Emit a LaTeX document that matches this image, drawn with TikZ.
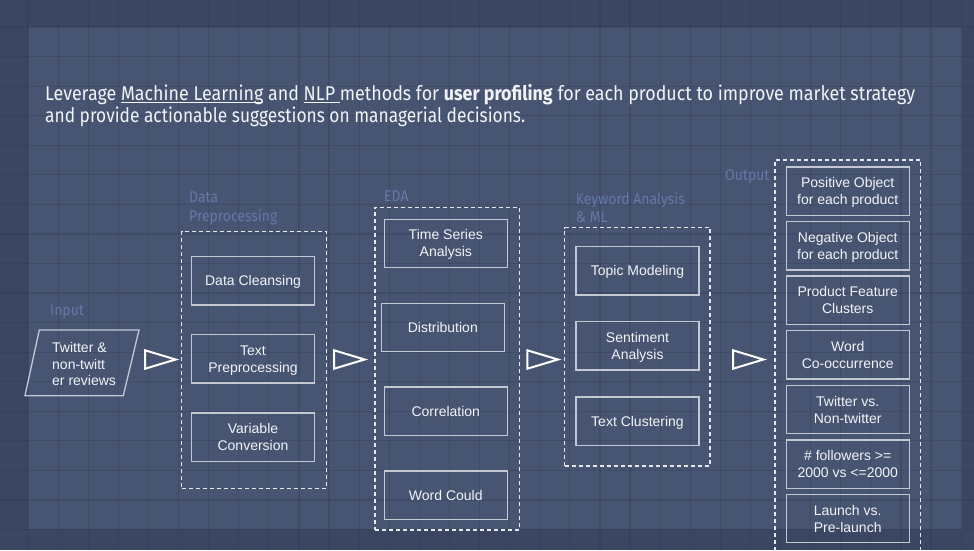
\documentclass[tikz,border=0pt]{standalone}
\usepackage{fontspec}
\usepackage{graphicx}
\setmainfont{Liberation Sans}
\newfontfamily\hdfont{Fira Sans}
\newfontfamily\lbfont[FakeStretch=0.9]{Fira Sans}
\definecolor{outerbg}{HTML}{3B4663}
\definecolor{innerbg}{HTML}{475572}
\definecolor{gridc}{HTML}{2E3852}
\definecolor{boxline}{HTML}{C3C8D2}
\definecolor{dashc}{HTML}{E6E8EE}
\definecolor{labelc}{HTML}{6479A8}
\definecolor{headc}{HTML}{F2F3F6}
\newsavebox\ulbox
\newcommand\myul[1]{\sbox\ulbox{#1}\rlap{\raisebox{-2.4pt}{\rule{\wd\ulbox}{1.3pt}}}\usebox\ulbox}
\tikzset{
  gridline/.style={draw=gridc, line width=1.2pt, opacity=0.3},
  procbox/.style={draw=boxline, line width=1.3pt, minimum width=123pt, minimum height=48.3pt,
    inner sep=0pt, text depth=0pt, align=center, text=headc, font=\fontsize{14}{17}\selectfont},
  groupbox/.style={draw=dashc, line width=1.4pt, dash pattern=on 4pt off 3pt, inner sep=0pt},
  grouplabel/.style={anchor=base west, inner sep=0pt, text=labelc, font=\lbfont\fontsize{15.5}{18.7}\selectfont},
  flowtri/.style={draw=white, line width=2pt, line join=miter},
  headline/.style={anchor=base west, inner sep=0pt, text=headc}
}
\begin{document}
\begin{tikzpicture}[x=1pt,y=-1pt]
\useasboundingbox (0,0) rectangle (974,550);
\fill[outerbg] (0,0) rectangle (974,550);
\fill[innerbg] (28,27) rectangle (962,528.7);
\foreach \i in {-1,...,31} \draw[gridline] ({28+30.1*\i},0) -- ({28+30.1*\i},550);
\foreach \j in {-1,...,18} \draw[gridline] (0,{27+29.56*\j}) -- (974,{27+29.56*\j});

% header
\node[headline] (h1) at (45,100.5) {\resizebox{870pt}{\height}{\hdfont\fontsize{20}{24}\selectfont Leverage \myul{Machine Learning} and \myul{NLP\ }methods for \textbf{user profiling} for each product to improve market strategy}};
\node[headline] (h2) at (45,122.5) {\resizebox{480pt}{\height}{\hdfont\fontsize{20}{24}\selectfont and provide actionable suggestions on managerial decisions.}};

% input
\node[grouplabel] (lin) at (50,315) {Input};
\draw[draw=boxline, line width=1.3pt] (39.3,330) -- (139,330) -- (123.3,395.7) -- (25,395.7) -- cycle;
\node[anchor=west, inner sep=0pt, align=left, text=headc, font=\fontsize{14}{16.7}\selectfont] (inp) at (52,364) {Twitter \&\\non-twitt\\er reviews};

% group frames
\node[groupbox, minimum width=145pt, minimum height=256.6pt] (gdp) at (254.2,360) {};
\node[groupbox, minimum width=144.3pt, minimum height=322.7pt] (geda) at (447.15,368.65) {};
\node[groupbox, minimum width=145.3pt, minimum height=238.3pt] (gka) at (637.35,346.85) {};
\node[groupbox, minimum width=145.3pt, minimum height=400pt] (gout) at (847.65,360) {};

% group labels
\node[grouplabel] (ldp1) at (189,202.7) {Data};
\node[grouplabel] (ldp2) at (189,221.4) {Preprocessing};
\node[grouplabel] (leda) at (384,201) {EDA};
\node[grouplabel] (lka1) at (575.7,204) {Keyword Analysis};
\node[grouplabel] (lka2) at (575.7,222.7) {\& ML};
\node[grouplabel] (lout) at (725,180.7) {Output};

% flow triangles
\draw[flowtri] (145,350.3) -- (175.7,359.5) -- (145,368.7) -- cycle;
\draw[flowtri] (334,350.3) -- (364.7,359.5) -- (334,368.7) -- cycle;
\draw[flowtri] (527.3,350.3) -- (558,359.5) -- (527.3,368.7) -- cycle;
\draw[flowtri] (733,350.3) -- (763.5,359.5) -- (733,368.7) -- cycle;

% data preprocessing
\node[procbox] (dc) at (253,280.8) {Data Cleansing};
\node[procbox] (tp) at (253,358.8) {Text\\Preprocessing};
\node[procbox] (vc) at (253,437.2) {Variable\\Conversion};

% EDA
\node[procbox] (ts) at (445.8,243.3) {Time Series\\Analysis};
\node[procbox] (di) at (442.8,327.5) {Distribution};
\node[procbox] (co) at (445.8,411.2) {Correlation};
\node[procbox] (wc) at (445.8,495) {Word Could};

% Keyword analysis & ML
\node[procbox] (tm) at (637.5,270.7) {Topic Modeling};
\node[procbox] (sa) at (637.5,345.8) {Sentiment\\Analysis};
\node[procbox] (tc) at (637.5,421) {Text Clustering};

% Output
\node[procbox] (o1) at (847.7,191.2) {Positive Object\\for each product};
\node[procbox] (o2) at (847.7,245.8) {Negative Object\\for each product};
\node[procbox] (o3) at (847.7,300.2) {Product Feature\\Clusters};
\node[procbox] (o4) at (847.7,354.8) {Word\\Co-occurrence};
\node[procbox] (o5) at (847.7,409.5) {Twitter vs.\\Non-twitter};
\node[procbox] (o6) at (847.7,464.2) {\# followers >=\\2000 vs <=2000};
\node[procbox] (o7) at (847.7,518.5) {Launch vs.\\Pre-launch};
\end{tikzpicture}
\end{document}
